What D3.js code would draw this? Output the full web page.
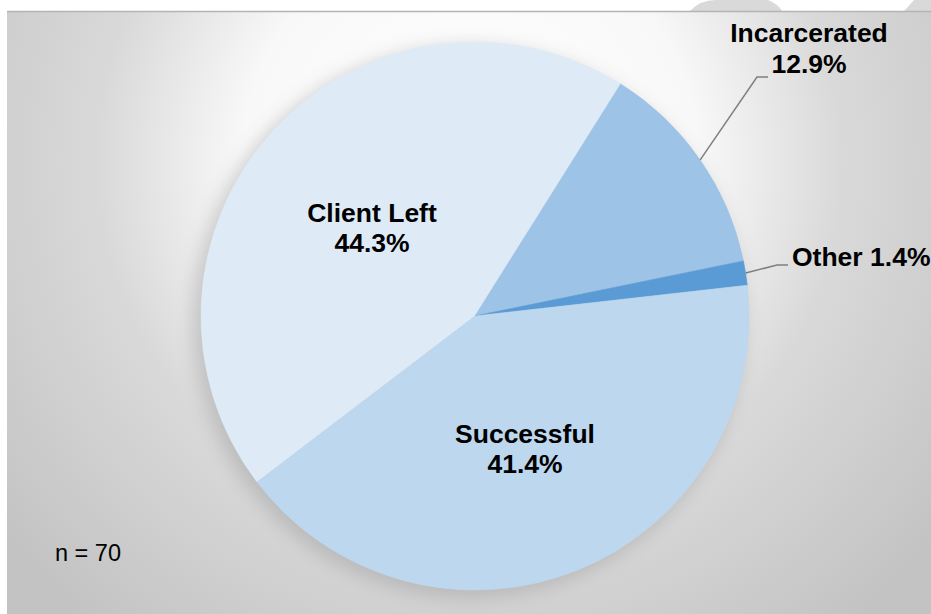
<!DOCTYPE html>
<html>
<head>
<meta charset="utf-8">
<script src="https://cdn.jsdelivr.net/npm/d3@7/dist/d3.min.js"></script>
<style>
  html, body { margin: 0; padding: 0; background: #ffffff; }
  svg { display: block; }
</style>
</head>
<body>
<svg id="chart" width="931" height="614"></svg>
<script>
// Case outcomes (count of clients, n = 70)
const categories = ["Client Left", "Incarcerated", "Other", "Successful"];
const counts = [31, 9, 1, 29];
const percentLabels = ["44.3%", "12.9%", "1.4%", "41.4%"];
const sliceColors = ["#deebf7", "#9dc3e6", "#5b9bd5", "#bdd7ee"];
const sampleNote = "n = 70";

const width = 931, height = 614;
const cx = 475, cy = 316, radius = 274;
const firstSliceAngle = 232.7 * Math.PI / 180;

const svg = d3.select("#chart");
const defs = svg.append("defs");

// Plot area background: soft radial gradient, white near the top
const bg = defs.append("radialGradient")
  .attr("id", "bgGrad")
  .attr("gradientUnits", "userSpaceOnUse")
  .attr("cx", 470).attr("cy", 160).attr("r", 600);
[[0, "#ffffff"], [0.38, "#f8f8f8"], [0.62, "#d9d9d9"], [1, "#c3c3c3"]]
  .forEach(([o, c]) => bg.append("stop").attr("offset", o).attr("stop-color", c));

const blur = defs.append("filter").attr("id", "shadowBlur")
  .attr("x", "-30%").attr("y", "-30%").attr("width", "160%").attr("height", "160%");
blur.append("feGaussianBlur").attr("stdDeviation", 9);

// decorative slide shapes above the plot frame
svg.append("path")
  .attr("d", "M690,11 Q700,0 716,0 L768,0 Q778,4 782,11 Z")
  .attr("fill", "#d9d9d9");
svg.append("path")
  .attr("d", "M904,11 L914,0 L931,0 L931,11 Z")
  .attr("fill", "#d9d9d9");

// plot frame
svg.append("rect")
  .attr("x", 7).attr("y", 11)
  .attr("width", width - 7).attr("height", height - 11)
  .attr("fill", "url(#bgGrad)");
svg.append("line")
  .attr("x1", 7).attr("x2", width).attr("y1", 11.5).attr("y2", 11.5)
  .attr("stroke", "#b4b4b4").attr("stroke-width", 1.5);

const g = svg.append("g").attr("transform", `translate(${cx},${cy})`);

// pie shadow
g.append("circle")
  .attr("cx", -6).attr("cy", 6).attr("r", radius + 2)
  .attr("fill", "#9a9a9a").attr("opacity", 0.45)
  .attr("filter", "url(#shadowBlur)");

const data = categories.map((c, i) => ({
  name: c, value: counts[i], pct: percentLabels[i], color: sliceColors[i]
}));

const pie = d3.pie()
  .value(d => d.value)
  .sort(null)
  .startAngle(firstSliceAngle)
  .endAngle(firstSliceAngle + 2 * Math.PI);

const arc = d3.arc().innerRadius(0).outerRadius(radius);
const arcs = pie(data);

g.selectAll("path.slice")
  .data(arcs)
  .join("path")
  .attr("class", "slice")
  .attr("d", arc)
  .attr("fill", d => d.data.color)
  .attr("stroke", d => d.data.color)
  .attr("stroke-width", 0.6);

const fontFamily = "'Liberation Sans', Arial, Helvetica, sans-serif";
const labelSize = 26.5;
const byName = Object.fromEntries(arcs.map(a => [a.data.name, a]));

// inside labels
const inside = [
  { name: "Client Left", x: -103, y: -94 },
  { name: "Successful", x: 50, y: 127 }
];
inside.forEach(l => {
  const a = byName[l.name];
  const t = g.append("text")
    .attr("x", l.x).attr("y", l.y)
    .attr("text-anchor", "middle")
    .attr("font-family", fontFamily)
    .attr("font-weight", "bold")
    .attr("font-size", labelSize)
    .attr("fill", "#000");
  t.append("tspan").attr("x", l.x).attr("dy", 0).text(a.data.name);
  t.append("tspan").attr("x", l.x).attr("dy", 30).text(a.data.pct);
});

// outside labels with leader lines
function edgePoint(a, frac) {
  const ang = a.startAngle + (a.endAngle - a.startAngle) * frac;
  return [radius * Math.sin(ang), -radius * Math.cos(ang)];
}

const inc = byName["Incarcerated"];
const incEdge = edgePoint(inc, 0.5);
g.append("polyline")
  .attr("points", [incEdge, [757 - cx, 77 - cy], [768 - cx, 77 - cy]].map(p => p.join(",")).join(" "))
  .attr("fill", "none").attr("stroke", "#7f7f7f").attr("stroke-width", 1.5);
const incText = svg.append("text")
  .attr("text-anchor", "middle")
  .attr("font-family", fontFamily).attr("font-weight", "bold")
  .attr("font-size", labelSize).attr("fill", "#000");
incText.append("tspan").attr("x", 809).attr("y", 42).text(inc.data.name);
incText.append("tspan").attr("x", 809).attr("y", 73).text(inc.data.pct);

const oth = byName["Other"];
const othEdge = edgePoint(oth, 0.5);
g.append("polyline")
  .attr("points", [othEdge, [777 - cx, 265 - cy], [788 - cx, 265 - cy]].map(p => p.join(",")).join(" "))
  .attr("fill", "none").attr("stroke", "#7f7f7f").attr("stroke-width", 1.5);
svg.append("text")
  .attr("x", 792).attr("y", 266)
  .attr("font-family", fontFamily).attr("font-weight", "bold")
  .attr("font-size", labelSize).attr("fill", "#000")
  .text(`${oth.data.name} ${oth.data.pct}`);

// sample size note
svg.append("text")
  .attr("x", 55).attr("y", 561)
  .attr("font-family", fontFamily)
  .attr("font-size", 23.5).attr("fill", "#000")
  .text(sampleNote);
</script>
</body>
</html>
